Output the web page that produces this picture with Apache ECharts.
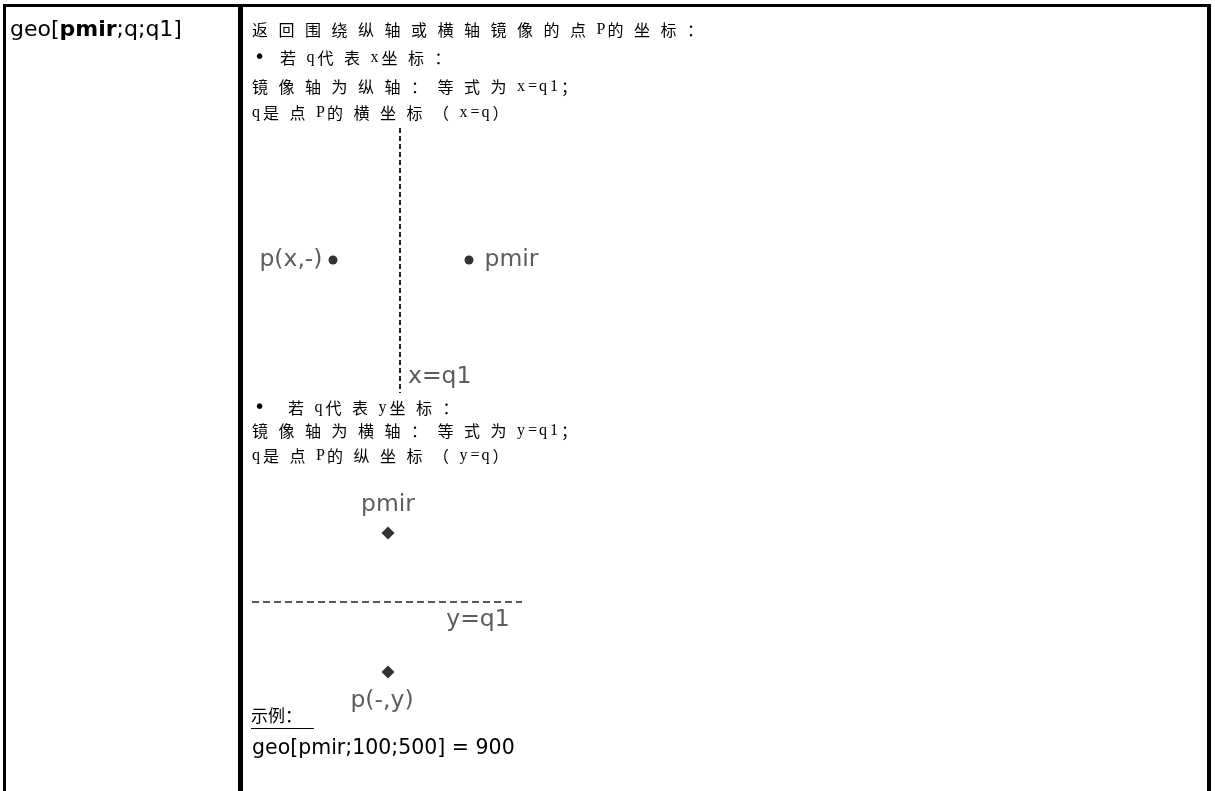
<!DOCTYPE html>
<html><head><meta charset="utf-8">
<script src="https://cdn.jsdelivr.net/npm/echarts@6/dist/echarts.min.js"></script>
<style>html,body{margin:0;padding:0;background:#fff}#c{width:1215px;height:791px}</style>
</head><body><div id="c"></div>
<script>
// ---- content ----
const funcName = ['geo[', 'pmir', ';q;q1]'];
const descTop = ['返回围绕纵轴或横轴镜像的点P的坐标：', '若q代表x坐标：', '镜像轴为纵轴：等式为x=q1；', 'q是点P的横坐标（x=q）'];
const descBottom = ['若q代表y坐标：', '镜像轴为横轴：等式为y=q1；', 'q是点P的纵坐标（y=q）'];
const exampleTitle = '示例：';
const exampleText = 'geo[pmir;100;500] = 900';
// diagram 1 (mirror about vertical axis x=q1), diagram units
const vAxisLine = [[0, 122], [0, -143]];
const vPoints = [{name: 'p(x,-)', value: [-67, -10]}, {name: 'pmir', value: [69, -10]}];
const vAxisLabel = [{name: 'x=q1', value: [0, -127]}];
// diagram 2 (mirror about horizontal axis y=q1)
const hAxisLine = [[0, 0], [270, 0]];
const hPoints = [{name: 'pmir', value: [136, 69]}, {name: 'p(-,y)', value: [136, -70]}];
const hAxisLabel = [{name: 'y=q1', value: [226, -18]}];

function spaced(str) {
  return str.split('').map(ch => /[\u3000-\u9fff\uff00-\uffef]/.test(ch) ? '{c|' + ch + '}' : '{l|' + ch + '}').join('');
}
const richCN = {
  c: {width: 26.5, fontFamily: 'Noto Sans CJK SC', fontSize: 16, fill: '#000'},
  l: {width: 11, fontFamily: 'Liberation Serif', fontSize: 16, fill: '#000'}
};
const labelFont = {fontFamily: 'DejaVu Sans', fontSize: 23.5, color: '#333'};

const chart = echarts.init(document.getElementById('c'));
const hiddenAxis = (min, max, idx) => ({type: 'value', min: min, max: max, gridIndex: idx, show: false, splitLine: {show: false}});
function cnText(str, x, y) {
  return {type: 'text', x: x, y: y, style: {text: spaced(str), rich: richCN, verticalAlign: 'middle', align: 'left'}};
}
const bullet = (x, y) => ({type: 'text', x: x, y: y, style: {text: '•', fontFamily: 'DejaVu Sans', fontSize: 19, fill: '#000', verticalAlign: 'middle'}});
const graphics = [
  // table borders
  {type: 'rect', shape: {x: 3, y: 4, width: 1208, height: 3}, style: {fill: '#000'}},
  {type: 'rect', shape: {x: 3, y: 4, width: 3, height: 800}, style: {fill: '#000'}},
  {type: 'rect', shape: {x: 238, y: 4, width: 5, height: 800}, style: {fill: '#000'}},
  {type: 'rect', shape: {x: 1207, y: 4, width: 4, height: 800}, style: {fill: '#000'}},
  // function name
  {type: 'text', x: 10, y: 30, style: {
    text: '{r|' + funcName[0] + '}{b|' + funcName[1] + '}{r|' + funcName[2] + '}',
    verticalAlign: 'middle',
    rich: {r: {fontFamily: 'DejaVu Sans', fontSize: 22, fill: '#000'}, b: {fontFamily: 'DejaVu Sans', fontSize: 22, fontWeight: 'bold', fill: '#000'}}
  }},
  cnText(descTop[0], 252, 30),
  bullet(254, 58),
  cnText(descTop[1], 280, 58),
  cnText(descTop[2], 252, 87),
  cnText(descTop[3], 252, 113),
  bullet(254, 408),
  cnText(descBottom[0], 288, 408),
  cnText(descBottom[1], 252, 431),
  cnText(descBottom[2], 252, 456),
  {type: 'text', x: 251, y: 716, style: {text: exampleTitle, fontFamily: 'Noto Sans CJK SC', fontSize: 17, fill: '#000', verticalAlign: 'middle'}},
  {type: 'line', shape: {x1: 251, y1: 728.5, x2: 314, y2: 728.5}, style: {stroke: '#000', lineWidth: 1}},
  {type: 'text', x: 252, y: 749, style: {text: exampleText, fontFamily: 'DejaVu Sans', fontSize: 20.5, fill: '#000', verticalAlign: 'middle'}}
];

chart.setOption({
  animation: false,
  backgroundColor: '#fff',
  grid: [
    {left: 250, top: 100, width: 300, height: 300},
    {left: 252, top: 452, width: 270, height: 300}
  ],
  xAxis: [hiddenAxis(-150, 150, 0), hiddenAxis(0, 270, 1)],
  yAxis: [hiddenAxis(-150, 150, 0), hiddenAxis(-150, 150, 1)],
  graphic: graphics,
  series: [
    {type: 'line', xAxisIndex: 0, yAxisIndex: 0, data: vAxisLine, symbol: 'none',
     lineStyle: {color: '#222', width: 2, type: [5, 3]}},
    {type: 'scatter', xAxisIndex: 0, yAxisIndex: 0, symbol: 'circle', symbolSize: 9,
     itemStyle: {color: '#000'},
     data: [
       {name: vPoints[0].name, value: vPoints[0].value, label: {position: 'left', distance: 6}},
       {name: vPoints[1].name, value: vPoints[1].value, label: {position: 'right', distance: 11}}
     ],
     label: {show: true, formatter: '{b}', ...labelFont}},
    {type: 'scatter', xAxisIndex: 0, yAxisIndex: 0, data: vAxisLabel, symbolSize: 0,
     label: {show: true, formatter: '{b}', position: 'right', distance: 8, ...labelFont}},
    {type: 'line', xAxisIndex: 1, yAxisIndex: 1, data: hAxisLine, symbol: 'none',
     lineStyle: {color: '#222', width: 1.5, type: [7, 4]}},
    {type: 'scatter', xAxisIndex: 1, yAxisIndex: 1, symbol: 'diamond', symbolSize: 13,
     itemStyle: {color: '#000'},
     data: [
       {name: hPoints[0].name, value: hPoints[0].value, label: {position: 'top', distance: 10}},
       {name: hPoints[1].name, value: hPoints[1].value, label: {position: 'bottom', distance: 10, offset: [-6, 0]}}
     ],
     label: {show: true, formatter: '{b}', ...labelFont}},
    {type: 'scatter', xAxisIndex: 1, yAxisIndex: 1, data: hAxisLabel, symbolSize: 0,
     label: {show: true, formatter: '{b}', position: 'inside', ...labelFont}}
  ]
});
</script></body></html>
